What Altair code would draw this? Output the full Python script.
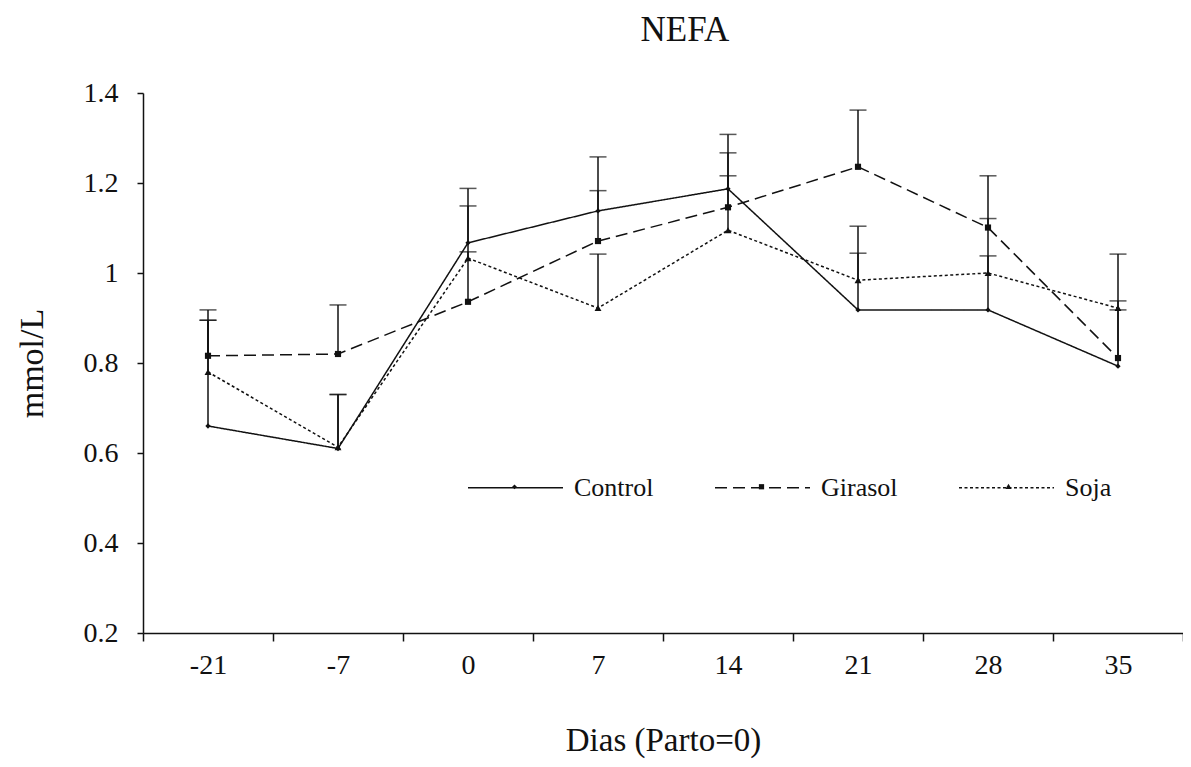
import altair as alt
import pandas as pd

days = ["-21", "-7", "0", "7", "14", "21", "28", "35"]
series_names = ["Control", "Girasol", "Soja"]
control = [0.66, 0.61, 1.067, 1.138, 1.187, 0.918, 0.918, 0.793]
control_up = [0.895, 0.73, 1.188, 1.258, 1.308, 1.044, 1.038, 0.918]
girasol = [0.816, 0.82, 0.936, 1.071, 1.146, 1.236, 1.101, 0.811]
girasol_up = [0.918, 0.929, 1.047, 1.183, 1.267, 1.362, 1.216, 1.042]
soja = [0.78, 0.613, 1.033, 0.922, 1.095, 0.984, 1.0, 0.922]
soja_up = [0.895, 0.73, 1.149, 1.042, 1.216, 1.104, 1.121, 0.938]

rows = []
for name, vals, ups in [("Control", control, control_up),
                        ("Girasol", girasol, girasol_up),
                        ("Soja", soja, soja_up)]:
    for d, v, u in zip(days, vals, ups):
        rows.append({"dia": d, "valor": v, "sup": u, "serie": name,
                     "marca": name, "simbolo": name})
df = pd.DataFrame(rows)

FONT = "Liberation Serif"
INK = "#111111"

x_enc = alt.X("dia:N", sort=days,
              scale=alt.Scale(domain=days, paddingInner=0, paddingOuter=0),
              axis=alt.Axis(title="Dias (Parto=0)", labelAngle=0, tickBand="extent",
                            tickSize=8, labelPadding=10, titlePadding=45))
y_enc = alt.Y("valor:Q",
              scale=alt.Scale(domain=[0.2, 1.4], nice=False, zero=False),
              axis=alt.Axis(title="mmol/L", values=[0.2, 0.4, 0.6, 0.8, 1.0, 1.2, 1.4],
                            format=".1~f", tickSize=6, labelPadding=19, titlePadding=34))

dash_scale = alt.Scale(domain=series_names, range=[[1, 0], [12, 6], [3, 2.5]])

marker_paths = [
    "M0,-0.05L0.05,0L0,0.05L-0.05,0Z",
    "M-0.055,-0.055H0.055V0.055H-0.055Z",
    "M0,-0.065L0.065,0.045H-0.065Z",
]
leg_lines = alt.Legend(title=None, orient="none", legendX=324, legendY=346,
                       direction="horizontal", columns=3, columnPadding=58,
                       labelFont=FONT, labelFontSize=26, labelColor=INK,
                       labelOffset=10, symbolSize=9025,
                       symbolType="M-1,0H1", symbolStrokeWidth=1.5,
                       symbolStrokeColor=INK)
leg_marks = alt.Legend(title=None, orient="none", legendX=324, legendY=346,
                       direction="horizontal", columns=3, columnPadding=142,
                       labelFont=FONT, labelFontSize=26, labelExpr="''",
                       labelOffset=10, symbolSize=9025,
                       symbolStrokeWidth=0, symbolFillColor=INK)

base = alt.Chart(df)

rules = base.mark_rule(color=INK, strokeWidth=1.5).encode(
    x=x_enc, y=alt.Y("valor:Q"), y2="sup:Q")
caps = base.mark_tick(color=INK, thickness=1.5, size=17, orient="horizontal").encode(
    x=x_enc, y=alt.Y("sup:Q"))
lines = base.mark_line(color=INK, strokeWidth=1.5).encode(
    x=x_enc, y=y_enc,
    strokeDash=alt.StrokeDash("serie:N", scale=dash_scale, legend=leg_lines),
    detail="serie:N")
points = base.mark_point(filled=True, color=INK, opacity=1).encode(
    x=x_enc, y=alt.Y("valor:Q"),
    shape=alt.Shape("marca:N",
                    scale=alt.Scale(domain=series_names,
                                    range=["diamond", "square", "triangle-up"]),
                    legend=None),
    size=alt.Size("marca:N",
                  scale=alt.Scale(domain=series_names, range=[28, 48, 48]),
                  legend=None))

legend_marks = base.transform_filter("false").mark_point(
    filled=True, color=INK, opacity=1).encode(
    x=x_enc, y=alt.Y("valor:Q"),
    shape=alt.Shape("simbolo:N",
                    scale=alt.Scale(domain=series_names, range=marker_paths),
                    legend=leg_marks))

chart = alt.layer(rules, caps, lines, points, legend_marks).resolve_scale(
    shape="independent", size="independent"
).properties(
    width=1040, height=540,
    autosize=alt.AutoSizeParams(type="none"),
    padding={"left": 135, "top": 85, "right": 0, "bottom": 132},
    title=alt.TitleParams("NEFA", font=FONT, fontSize=35, fontWeight="normal",
                          color=INK, offset=31, dx=22),
).configure_view(stroke=None).configure_axis(
    labelFont=FONT, titleFont=FONT, labelFontSize=28, titleFontSize=33,
    titleFontWeight="normal", labelColor=INK, titleColor=INK,
    domainColor=INK, tickColor=INK, domainWidth=1.5, tickWidth=1.5, grid=False
).configure_axisY(titleFontSize=34).configure_axisX(titleFontSize=33)

chart.save("out.html", embed_options={"renderer": "svg", "actions": False})
